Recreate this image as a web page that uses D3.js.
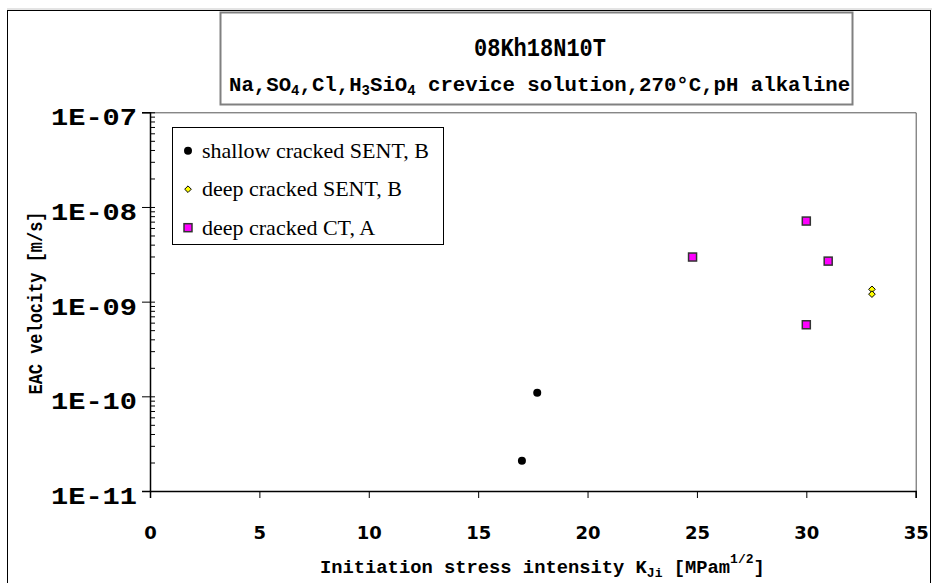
<!DOCTYPE html>
<html>
<head>
<meta charset="utf-8">
<script src="https://cdn.jsdelivr.net/npm/d3@7"></script>
<style>
  body { margin: 0; background: #fff; }
  svg { display: block; }
</style>
</head>
<body>
<script>
// data
var shallowK = [17.7, 17.0];
var shallowV = [1.09e-10, 2.09e-11];
var deepSentK = [33.0, 33.0];
var deepSentV = [1.35e-9, 1.2e-9];
var ctK = [30.0, 24.8, 31.0, 30.0];
var ctV = [7.1e-9, 2.96e-9, 2.68e-9, 5.7e-10];
var xTicks = [0, 5, 10, 15, 20, 25, 30, 35];
var yTicks = [1e-11, 1e-10, 1e-9, 1e-8, 1e-7];
var yTickLabels = ["1E-11", "1E-10", "1E-09", "1E-08", "1E-07"];
var legendNames = ["shallow cracked SENT, B", "deep cracked SENT, B", "deep cracked CT, A"];

var width = 934;
var height = 583;
var plot = {left: 150, top: 112.3, right: 915.7, bottom: 491};
var mono = "'Liberation Mono', 'DejaVu Sans Mono', monospace";

var svg = d3.select("body")
  .append("svg")
    .attr("width", width)
    .attr("height", height);

// outer frame
svg.append("line")
  .attr("x1", 7).attr("x2", 932).attr("y1", 9).attr("y2", 9)
  .attr("stroke", "#c8c8c8");
svg.append("rect")
  .attr("x", 7.5).attr("y", 10.5)
  .attr("width", 923).attr("height", 580)
  .attr("fill", "none").attr("stroke", "#000");

//Scales
var x = d3.scaleLinear().domain([0, 35]).range([plot.left, plot.right]);
var y = d3.scaleLog().domain([1e-11, 1e-7]).range([plot.bottom, plot.top]);

// plot border (top / right)
svg.append("path")
  .attr("d", "M" + plot.left + "," + (plot.top + 0.5) + "H" + (plot.right + 0.5) + "V" + plot.bottom)
  .attr("fill", "none").attr("stroke", "#555");

// minor ticks
var minors = [];
yTicks.slice(0, 4).forEach(function(d) {
  for (var m = 2; m <= 9; m++) minors.push(d * m);
});

var yMinor = svg.append("g")
  .attr("transform", "translate(" + plot.left + ",0)")
  .call(d3.axisRight(y).tickValues(minors.concat(yTicks)).tickSize(5).tickFormat(""));

var yAxisGroup = svg.append("g")
  .attr("transform", "translate(" + plot.left + ",0)")
  .call(d3.axisLeft(y).tickValues(yTicks).tickSize(8).tickFormat(function(d, i) { return yTickLabels[i]; }));

yAxisGroup.selectAll("text")
  .attr("x", -13)
  .attr("dy", "0.55em")
  .attr("font-family", mono)
  .attr("font-weight", "bold")
  .attr("font-size", 23)
  .attr("fill", "#000")
  .attr("textLength", 86)
  .attr("lengthAdjust", "spacingAndGlyphs");

var xAxisGroup = svg.append("g")
  .attr("transform", "translate(0," + plot.bottom + ")")
  .call(d3.axisBottom(x).tickValues(xTicks).tickSize(7));

xAxisGroup.selectAll("text")
  .attr("y", 48)
  .attr("dy", 0)
  .attr("font-family", "'DejaVu Sans', sans-serif")
  .attr("font-weight", "bold")
  .attr("font-size", 18)
  .attr("fill", "#000");

svg.selectAll(".domain").attr("stroke", "#000").attr("stroke-width", 1.5);
yMinor.select(".domain").remove();
svg.selectAll(".tick line").attr("stroke", "#000");

//Labels
var xl = svg.append("text")
  .attr("x", 320).attr("y", 573)
  .attr("font-family", mono).attr("font-weight", "bold").attr("font-size", 18.8);
xl.append("tspan").text("Initiation stress intensity K");
xl.append("tspan").attr("font-size", 13).attr("dy", 4).text("Ji");
xl.append("tspan").attr("dy", -4).text(" [MPam");
xl.append("tspan").attr("font-size", 13).attr("dy", -10).text("1/2");
xl.append("tspan").attr("dy", 10).text("]");

svg.append("text")
  .attr("transform", "translate(42,303) rotate(-90)")
  .attr("text-anchor", "middle")
  .attr("font-family", mono).attr("font-weight", "bold").attr("font-size", 21)
  .attr("textLength", 183).attr("lengthAdjust", "spacingAndGlyphs")
  .text("EAC velocity [m/s]");

// title box
svg.append("rect")
  .attr("x", 220.5).attr("y", 12.5)
  .attr("width", 632).attr("height", 92)
  .attr("fill", "#fff").attr("stroke", "#808080").attr("stroke-width", 2);

svg.append("text")
  .attr("x", 540).attr("y", 56)
  .attr("text-anchor", "middle")
  .attr("font-family", mono).attr("font-weight", "bold").attr("font-size", 25)
  .attr("textLength", 132).attr("lengthAdjust", "spacingAndGlyphs")
  .text("08Kh18N10T");

var t2 = svg.append("text")
  .attr("x", 229).attr("y", 91)
  .attr("font-family", mono).attr("font-weight", "bold").attr("font-size", 20.7);
t2.append("tspan").text("Na,SO");
t2.append("tspan").attr("font-size", 14).attr("dy", 4).text("4");
t2.append("tspan").attr("dy", -4).text(",Cl,H");
t2.append("tspan").attr("font-size", 14).attr("dy", 4).text("3");
t2.append("tspan").attr("dy", -4).text("SiO");
t2.append("tspan").attr("font-size", 14).attr("dy", 4).text("4");
t2.append("tspan").attr("dy", -4).text(" crevice solution,270\u00B0C,pH alkaline");

// legend
var legend = svg.append("g");
legend.append("rect")
  .attr("x", 172.5).attr("y", 127.5)
  .attr("width", 271).attr("height", 117)
  .attr("fill", "#fff").attr("stroke", "#000");

var legendY = d3.scalePoint().domain(legendNames).range([150.7, 227.7]);

legend.selectAll("text")
  .data(legendNames)
  .enter()
  .append("text")
    .attr("x", 202)
    .attr("y", function(d) { return legendY(d) + 7; })
    .attr("font-family", "'Liberation Serif', 'Times New Roman', serif")
    .attr("font-size", 22)
    .text(function(d) { return d; });

//Marks
function circle(sel) {
  sel.attr("r", 4).attr("fill", "#000");
}
function diamond(sel) {
  sel.attr("d", d3.symbol().type(d3.symbolDiamond2).size(28))
    .attr("fill", "#ffff00").attr("stroke", "#000").attr("stroke-width", 1);
}
function square(sel) {
  sel.attr("width", 8).attr("height", 8)
    .attr("fill", "#ff00ff").attr("stroke", "#333").attr("stroke-width", 1.5);
}

svg.selectAll(".shallow")
  .data(d3.zip(shallowK, shallowV))
  .enter().append("circle")
    .attr("class", "shallow")
    .attr("cx", function(d) { return x(d[0]); })
    .attr("cy", function(d) { return y(d[1]); })
    .call(circle);

svg.selectAll(".deep")
  .data(d3.zip(deepSentK, deepSentV))
  .enter().append("path")
    .attr("class", "deep")
    .attr("transform", function(d) { return "translate(" + x(d[0]) + "," + y(d[1]) + ")"; })
    .call(diamond);

svg.selectAll(".ct")
  .data(d3.zip(ctK, ctV))
  .enter().append("rect")
    .attr("class", "ct")
    .attr("x", function(d) { return x(d[0]) - 4; })
    .attr("y", function(d) { return y(d[1]) - 4; })
    .call(square);

// legend markers
legend.append("circle")
  .attr("cx", 188).attr("cy", legendY(legendNames[0]))
  .call(circle);
legend.append("path")
  .attr("transform", "translate(188," + legendY(legendNames[1]) + ")")
  .call(diamond);
legend.append("rect")
  .attr("x", 184).attr("y", legendY(legendNames[2]) - 4)
  .call(square);
</script>
</body>
</html>
